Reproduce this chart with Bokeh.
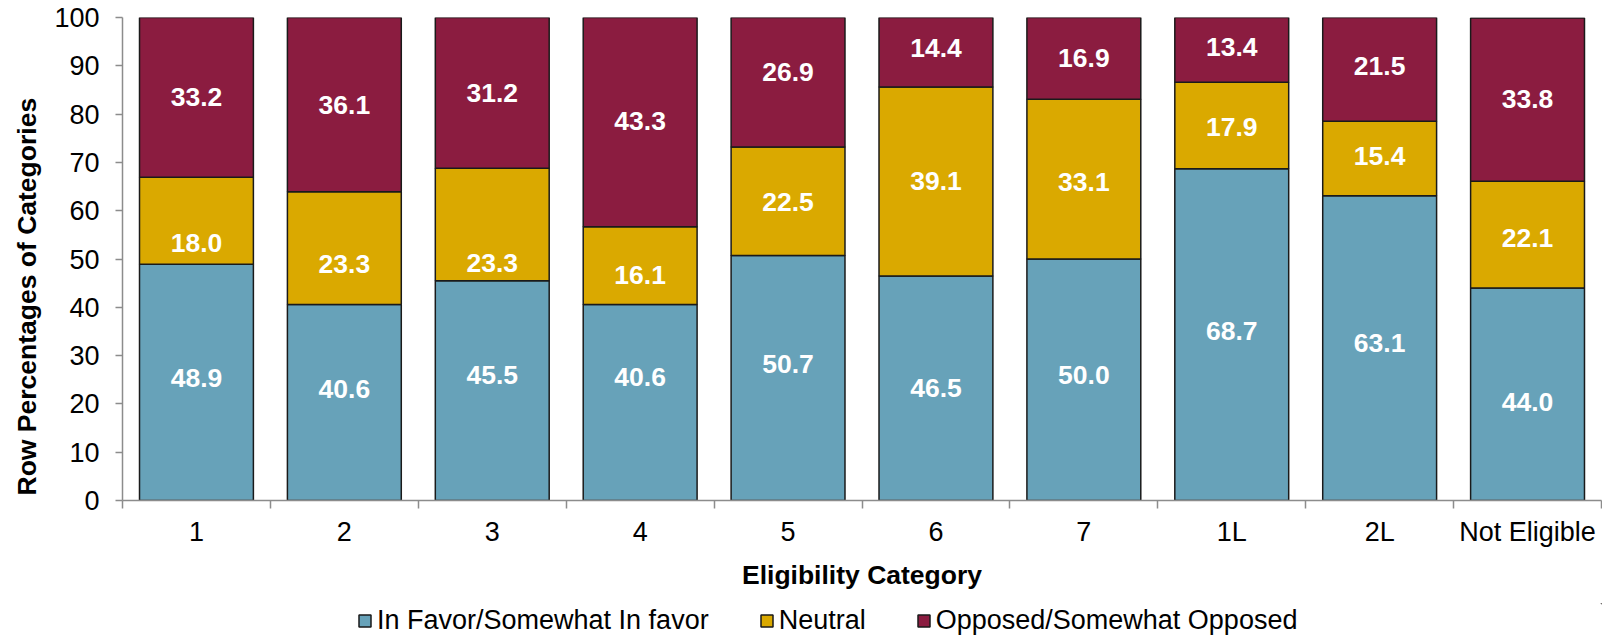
from bokeh.plotting import figure
from bokeh.layouts import column
from bokeh.models import (ColumnDataSource, FixedTicker, Legend, LegendItem,
                          Title, Range1d)
from bokeh.core.properties import value
from bokeh.embed import file_html
from bokeh.resources import INLINE

# Row percentages by eligibility category
categories = ["1", "2", "3", "4", "5", "6", "7", "1L", "2L", "Not Eligible"]
in_favor = [48.9, 40.6, 45.5, 40.6, 50.7, 46.5, 50.0, 68.7, 63.1, 44.0]
neutral = [18.0, 23.3, 23.3, 16.1, 22.5, 39.1, 33.1, 17.9, 15.4, 22.1]
opposed = [33.2, 36.1, 31.2, 43.3, 26.9, 14.4, 16.9, 13.4, 21.5, 33.8]

series_names = ["In Favor/Somewhat In favor", "Neutral", "Opposed/Somewhat Opposed"]
series_colors = ["#67A2B9", "#DAA900", "#8B1C40"]
y_ticks = list(range(0, 101, 10))

# hand-placed label nudges (screen px, positive = down), one list per series
label_nudge = [
    [-4, -13, -16, -25, -14, 0, -5, -4, -5, 8],
    [22, 16, 39, 9, 1, 0, 3, 2, -3, 3],
    [0, 0, 0, -1, -10, -4, 0, -3, -3, -1],
]

FONT = "Liberation Sans"
FS = "27px"
FS_BOLD = "26.5px"
AXIS_GRAY = "#8C8C8C"
W = 1602
H_MAIN = 603
H_LEGEND = 33

xs = [i + 0.5 for i in range(len(categories))]

p = figure(width=W, height=H_MAIN, output_backend="svg", toolbar_location=None,
           x_range=Range1d(0, len(categories)), y_range=Range1d(0, 100),
           min_border_left=121, min_border_right=1, min_border_top=17,
           min_border_bottom=103)
p.outline_line_color = None
p.xgrid.visible = False
p.ygrid.visible = False

bottom = [0.0] * len(categories)
for vals, col, nudge in zip([in_favor, neutral, opposed], series_colors, label_nudge):
    top = [b + v for b, v in zip(bottom, vals)]
    mid = [b + v / 2 for b, v in zip(bottom, vals)]
    src = ColumnDataSource(dict(x=xs, bottom=bottom, top=top, mid=mid, dy=nudge,
                                lbl=[f"{v:.1f}" for v in vals]))
    p.vbar(x="x", bottom="bottom", top="top", width=0.77, source=src,
           fill_color=col, line_color="#1A1A1A", line_width=1.5)
    p.text(x="x", y="mid", text="lbl", source=src, y_offset="dy", text_color="white",
           text_font=value(FONT), text_font_style="bold", text_font_size=FS_BOLD,
           text_align="center", text_baseline="middle")
    bottom = top

# x axis: category labels at centres, short ticks at category boundaries
xax = p.xaxis[0]
xax.ticker = FixedTicker(ticks=xs, minor_ticks=list(range(len(categories) + 1)))
xax.major_label_overrides = {x: c for x, c in zip(xs, categories)}
xax.major_tick_out = 0
xax.major_tick_in = 0
xax.minor_tick_out = 8
xax.minor_tick_in = 0
xax.minor_tick_line_color = AXIS_GRAY
xax.minor_tick_line_width = 1.5
xax.axis_line_color = AXIS_GRAY
xax.axis_line_width = 1.5
xax.major_label_text_font = FONT
xax.major_label_text_font_size = FS
xax.major_label_text_color = "black"
xax.major_label_standoff = 8
xax.axis_label = "Eligibility Category"
xax.axis_label_text_font = FONT
xax.axis_label_text_font_size = FS_BOLD
xax.axis_label_text_font_style = "bold"
xax.axis_label_text_color = "black"
xax.axis_label_standoff = 10

yax = p.yaxis[0]
yax.ticker = FixedTicker(ticks=y_ticks)
yax.major_tick_out = 7
yax.major_tick_in = 0
yax.minor_tick_out = 0
yax.minor_tick_in = 0
yax.major_tick_line_color = AXIS_GRAY
yax.major_tick_line_width = 1.5
yax.axis_line_color = AXIS_GRAY
yax.axis_line_width = 1.5
yax.major_label_text_font = FONT
yax.major_label_text_font_size = FS
yax.major_label_text_color = "black"
yax.major_label_standoff = 16

# vertical axis title, anchored near the bottom of the frame
p.add_layout(Title(text="Row Percentages of Categories", align="left", offset=5,
                   text_font=FONT, text_font_size=FS_BOLD, text_font_style="bold",
                   text_color="black", standoff=19), "left")

# legend strip underneath the chart (its frame lines up with the chart's frame)
lg = figure(width=W, height=H_LEGEND, output_backend="svg", toolbar_location=None,
            x_axis_type=None, y_axis_type=None, x_range=Range1d(0, 1),
            y_range=Range1d(0, 1), min_border=0)
lg.outline_line_color = None
# swatch renderers sit outside the visible range; only their legend entries show
swatches = [lg.vbar(x=[5], top=[5], bottom=[4], width=0.1, fill_color=c,
                    line_color="#1A1A1A", line_width=1.5) for c in series_colors]
legend = Legend(items=[LegendItem(label=n, renderers=[r]) for n, r in zip(series_names, swatches)],
                orientation="horizontal", location=(235, 0),
                glyph_width=15, glyph_height=15, label_standoff=5, spacing=50,
                padding=0, margin=0, border_line_color=None, background_fill_alpha=0,
                label_text_font=FONT, label_text_font_size=FS, label_text_color="black",
                label_height=26)
lg.add_layout(legend, "center")

open("out.html", "w").write(file_html(column(p, lg, spacing=0), INLINE))
